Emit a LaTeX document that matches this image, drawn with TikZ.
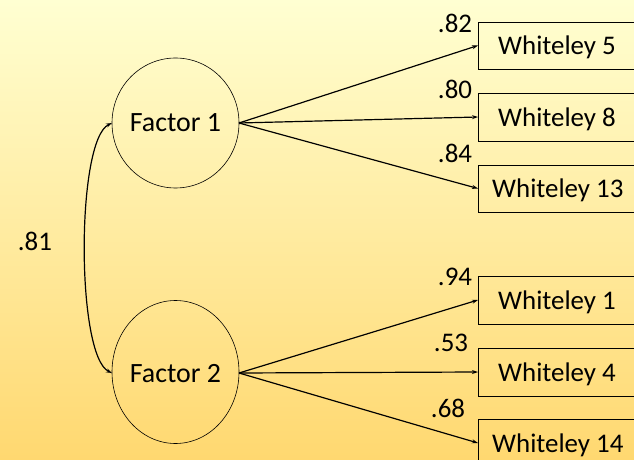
\documentclass[tikz,border=0pt]{standalone}
\usepackage{fontspec}
\setmainfont{Carlito}
\usetikzlibrary{arrows.meta}
\definecolor{bgtop}{HTML}{FFFFD2}
\definecolor{bgmid}{HTML}{FFF3A8}
\definecolor{bgbot}{HTML}{FFD870}
\tikzset{
  itemtext/.style={font=\fontsize{27}{31}\selectfont, anchor=west, inner sep=0pt},
  lbl/.style={font=\fontsize{27}{31}\selectfont, inner sep=0pt},
  flbl/.style={font=\fontsize{28}{32}\selectfont, inner sep=0pt},
  load/.style={line width=1.2pt, -{Stealth[length=6bp,width=4bp]}},
  thin line/.style={line width=0.6pt},
}
\begin{document}
\begin{tikzpicture}[x=1bp,y=-1bp]
\useasboundingbox (0,0) rectangle (634,460);
\shade[top color=bgtop, middle color=bgmid, bottom color=bgbot] (0,0) rectangle (634,460);
\begin{scope}
\clip (0,0) rectangle (634,460);
% factors
\draw[thin line] (175.5,123) ellipse [x radius=63.5, y radius=65];
\draw[thin line] (175.5,372) ellipse [x radius=63.5, y radius=71.5];
\node[flbl] (f1) at (175.5,123) {Factor 1};
\node[flbl] (f2) at (175.5,374) {Factor 2};
\coordinate (f1r) at (239,123);
\coordinate (f2r) at (239,373);
\coordinate (f1l) at (112,123);
\coordinate (f2l) at (112,373);
% items
\draw[thin line] (478,22) rectangle (660,69);
\draw[thin line] (478,93) rectangle (660,141);
\draw[thin line] (478,165) rectangle (660,212);
\draw[thin line] (478,276) rectangle (660,324);
\draw[thin line] (478,348) rectangle (660,396);
\draw[thin line] (478,419) rectangle (660,466);
\coordinate (w5) at (478,45.5);
\coordinate (w8) at (478,117);
\coordinate (w13) at (478,188.5);
\coordinate (w1) at (478,300);
\coordinate (w4) at (478,372);
\coordinate (w14) at (478,443);
\node[itemtext] (t5) at (498,47) {Whiteley 5};
\node[itemtext] (t8) at (498,119) {Whiteley 8};
\node[itemtext] (t13) at (492,190) {Whiteley 13};
\node[itemtext] (t1) at (498,302) {Whiteley 1};
\node[itemtext] (t4) at (498,374) {Whiteley 4};
\node[itemtext] (t14) at (492,445) {Whiteley 14};
% loadings
\draw[load] (f1r) -- (w5);
\draw[load] (f1r) -- (w8);
\draw[load] (f1r) -- (w13);
\draw[load] (f2r) -- (w1);
\draw[load] (f2r) -- (w4);
\draw[load] (f2r) -- (w14);
\node[lbl] (l82) at (455,23) {.82};
\node[lbl] (l80) at (455,89) {.80};
\node[lbl] (l84) at (455,153) {.84};
\node[lbl] (l94) at (455,277) {.94};
\node[lbl] (l53) at (451,343) {.53};
\node[lbl] (l68) at (448,408) {.68};
% correlation
\draw[line width=1.2pt, {Stealth[length=6bp,width=4bp]}-{Stealth[length=6bp,width=4bp]}]
  (f1l) .. controls (76,140) and (76,356) .. (f2l);
\node[lbl] (l81) at (35,241) {.81};
\end{scope}
\end{tikzpicture}
\end{document}
